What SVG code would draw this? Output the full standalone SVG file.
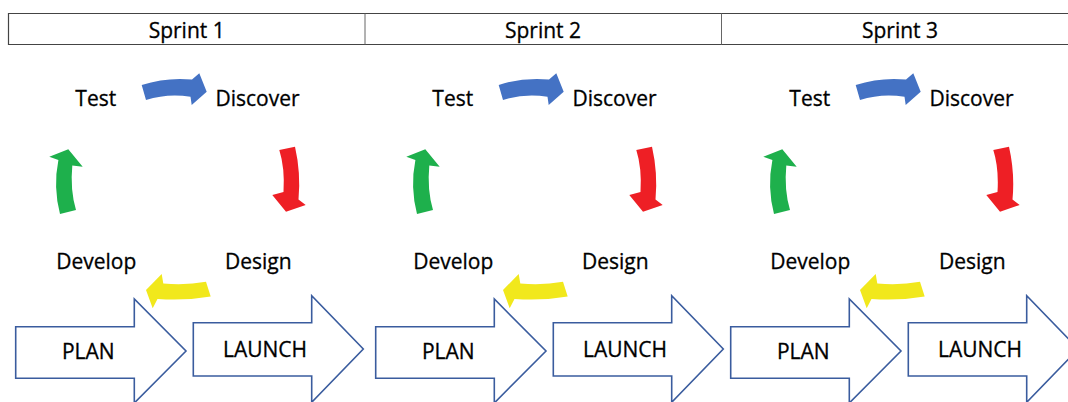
<svg xmlns="http://www.w3.org/2000/svg" xmlns:xlink="http://www.w3.org/1999/xlink" width="1068" height="402" viewBox="0 0 1068 402">
<style>
  .hdr{fill:none;stroke:#444;stroke-width:1.2}
  .div{stroke:#666;stroke-width:1}
  .t{font-family:"Open Sans","Liberation Sans",sans-serif;font-size:21px;fill:#000;stroke:#000;stroke-width:0.3;text-anchor:middle}
  .big{fill:#fff;stroke:#3A5C9E;stroke-width:1.6;stroke-linejoin:miter}
  .blue{fill:#4472C4}
  .red{fill:#EE1F25}
  .green{fill:#1EB04C}
  .yellow{fill:#F1E81C}
</style>
<defs>
  <path id="pBlue" d="M141.7,85 Q166,77 192,79.5 L199.3,73.3 L206.7,91.7 L191.7,105 L190.5,96.8 Q168,93 146,100 Z"/>
  <path id="pRed" d="M279.3,150 L295,146.7 Q301,173 298.5,199.5 L305.7,205 L286,211.7 L272.3,195 L283.5,192 Q285,168 279.3,150 Z"/>
  <path id="pGreen" d="M60,214 Q53,187 58.4,160 L49.3,156.7 L68.3,149.3 L82.7,166.7 L72.3,165.5 Q70,190 76,210 Z"/>
  <path id="pYellow" d="M206,281.7 L210.7,296.5 Q185,301 157.5,299 L152.7,308.3 L146,290 L161.7,274 L163.3,283.5 Q186,285.5 206,281.7 Z"/>
  <path id="pPlan" d="M15.7,326.7 L134.3,326.7 L134.3,299 L186,351 L134.3,403 L134.3,378.3 L15.7,378.3 Z"/>
  <path id="pLaunch" d="M193.3,322.7 L311.7,322.7 L311.7,295.7 L363.3,349 L311.7,402.3 L311.7,376 L193.3,376 Z"/>
</defs>

<g id="header">
  <path class="hdr" d="M1069,13.5 L8.5,13.5 L8.5,44.5 L1069,44.5"/>
  <line class="div" x1="365" y1="13.5" x2="365" y2="44.5"/>
  <line class="div" x1="721.5" y1="13.5" x2="721.5" y2="44.5"/>
  <text class="t" x="186.7" y="37.7">Sprint 1</text>
  <text class="t" x="543" y="37.7">Sprint 2</text>
  <text class="t" x="900" y="37.7">Sprint 3</text>
</g>

<g id="connectors">
  <use href="#pBlue" class="blue"/>
  <use href="#pRed" class="red"/>
  <use href="#pGreen" class="green"/>
  <use href="#pYellow" class="yellow"/>
  <use href="#pBlue" class="blue" x="357"/>
  <use href="#pRed" class="red" x="357"/>
  <use href="#pGreen" class="green" x="357"/>
  <use href="#pYellow" class="yellow" x="357"/>
  <use href="#pBlue" class="blue" x="714"/>
  <use href="#pRed" class="red" x="714"/>
  <use href="#pGreen" class="green" x="714"/>
  <use href="#pYellow" class="yellow" x="714"/>
</g>

<g id="s1-test"><text class="t" x="95.8" y="105.7">Test</text></g>
<g id="s1-discover"><text class="t" x="257.5" y="105.7">Discover</text></g>
<g id="s1-develop"><text class="t" x="96.3" y="268.5">Develop</text></g>
<g id="s1-design"><text class="t" x="258.3" y="268.5">Design</text></g>
<g id="s1-plan"><use href="#pPlan" class="big"/><text class="t" x="88.3" y="359.3">PLAN</text></g>
<g id="s1-launch"><use href="#pLaunch" class="big"/><text class="t" x="265" y="356.7">LAUNCH</text></g>

<g id="s2-test"><text class="t" x="452.8" y="105.7">Test</text></g>
<g id="s2-discover"><text class="t" x="614.5" y="105.7">Discover</text></g>
<g id="s2-develop"><text class="t" x="453.3" y="268.5">Develop</text></g>
<g id="s2-design"><text class="t" x="615.3" y="268.5">Design</text></g>
<g id="s2-plan"><use href="#pPlan" class="big" x="360"/><text class="t" x="448.3" y="359.3">PLAN</text></g>
<g id="s2-launch"><use href="#pLaunch" class="big" x="360"/><text class="t" x="625" y="356.7">LAUNCH</text></g>

<g id="s3-test"><text class="t" x="809.8" y="105.7">Test</text></g>
<g id="s3-discover"><text class="t" x="971.5" y="105.7">Discover</text></g>
<g id="s3-develop"><text class="t" x="810.3" y="268.5">Develop</text></g>
<g id="s3-design"><text class="t" x="972.3" y="268.5">Design</text></g>
<g id="s3-plan"><use href="#pPlan" class="big" x="715"/><text class="t" x="803.3" y="359.3">PLAN</text></g>
<g id="s3-launch"><use href="#pLaunch" class="big" x="715"/><text class="t" x="980" y="356.7">LAUNCH</text></g>
</svg>
